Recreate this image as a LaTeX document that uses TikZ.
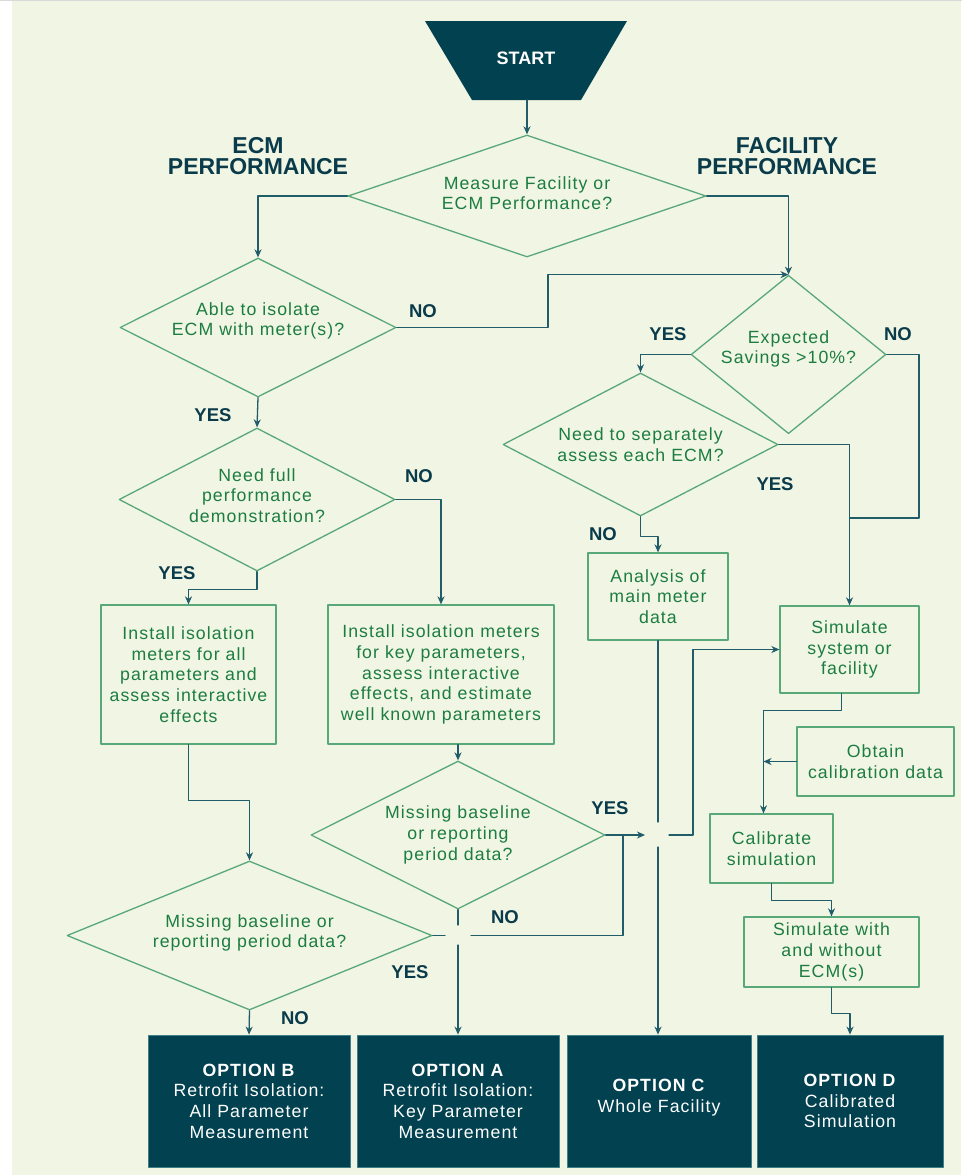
\documentclass[tikz,border=0pt]{standalone}
\usepackage{fontspec}
\setmainfont{Liberation Sans}
\newfontfamily\spacedfont{Liberation Sans}[LetterSpace=6]
\usetikzlibrary{arrows.meta,positioning,shapes.geometric}
\definecolor{paper}{HTML}{F1F5E4}
\definecolor{deepteal}{HTML}{02414F}
\definecolor{optedge}{HTML}{3F7F88}
\definecolor{linkteal}{HTML}{215C69}
\definecolor{edgegreen}{HTML}{58A878}
\definecolor{textgreen}{HTML}{1C7D41}
\definecolor{labelteal}{HTML}{0A3B4A}
\tikzset{
  bodytext/.style={font=\spacedfont\fontsize{17.7}{20.7}\selectfont},
  decision/.style={diamond, draw=edgegreen, line width=1.3pt, inner sep=0pt, align=center, text=textgreen, bodytext},
  process/.style={rectangle, draw=edgegreen, line width=1.3pt, inner sep=2pt, align=center, text=textgreen, bodytext},
  option/.style={rectangle, fill=deepteal, draw=optedge, line width=0.8pt, minimum height=132pt, align=center, text=white, bodytext},
  starttext/.style={text=white, font=\bfseries\fontsize{18}{20}\selectfont},
  heading/.style={align=center, text=labelteal, font=\bfseries\fontsize{23}{21.5}\selectfont},
  lbl/.style={text=labelteal, font=\bfseries\fontsize{18.5}{20}\selectfont},
  link/.style={draw=linkteal, line width=1.3pt},
}
\begin{document}
\begin{tikzpicture}[line cap=round,line join=round,>={Stealth[length=8pt,width=7pt,inset=2.5pt]},x=1pt,y=-1pt]
\useasboundingbox (0,0) rectangle (961,1175);
\fill[paper] (12,1) rectangle (961,1175);
\draw[gray!30,line width=1.5pt] (0,0.5) -- (961,0.5);

\fill[deepteal] (425,21) -- (627,21) -- (581,100) -- (472,100) -- cycle;
\node[starttext] (start) at (526,58) {START};
\coordinate (startbase) at (527,100);
\node[heading] (ecmhead) at (258,156) {ECM\\PERFORMANCE};
\node[heading] (fachead) at (787,156) {FACILITY\\PERFORMANCE};

\node[decision,minimum width=358pt,minimum height=122pt,shape aspect=2.93,text depth=6pt] (measure) at (527,196) {Measure Facility or\\ECM Performance?};
\node[decision,minimum width=276pt,minimum height=139pt,shape aspect=1.99,text depth=17pt] (isolate) at (258,327.5) {Able to isolate\\ECM with meter(s)?};
\node[decision,minimum width=191pt,minimum height=155pt,shape aspect=1.23,text depth=15pt] (savings) at (788.5,354.5) {Expected\\Savings >10\%?};
\node[decision,minimum width=275pt,minimum height=143pt,shape aspect=1.92] (separate) at (640.5,444.5) {Need to separately\\assess each ECM?};
\node[decision,minimum width=276pt,minimum height=143pt,shape aspect=1.93,text depth=8pt] (fulldemo) at (257,499.5) {Need full\\performance\\demonstration?};
\node[decision,minimum width=294pt,minimum height=148pt,shape aspect=1.99] (misskey) at (458,835) {Missing baseline\\or reporting\\period data?};
\node[decision,minimum width=365pt,minimum height=149pt,shape aspect=2.45,text depth=9pt] (missall) at (249.5,935.5) {Missing baseline or\\reporting period data?};

\node[process,minimum width=140pt,minimum height=87pt] (mainmeter) at (658,596.5) {Analysis of\\main meter\\data};
\node[process,minimum width=139pt,minimum height=87pt] (simsys) at (849.5,649.5) {Simulate\\system or\\facility};
\node[process,minimum width=157pt,minimum height=69pt] (calibdata) at (875.5,761.5) {Obtain\\calibration data};
\node[process,minimum width=123pt,minimum height=69pt] (calibsim) at (771.5,848.5) {Calibrate\\simulation};
\node[process,minimum width=175pt,minimum height=70pt] (simecm) at (831.5,952) {Simulate with\\and without\\ECM(s)};
\node[process,minimum width=175pt,minimum height=139pt] (allmeters) at (188.5,674.5) {Install isolation\\meters for all\\parameters and\\assess interactive\\effects};
\node[process,minimum width=226pt,minimum height=139pt] (keymeters) at (441,674.5) {Install isolation meters\\for key parameters,\\assess interactive\\effects, and estimate\\well known parameters};

\node[option,minimum width=202pt] (optb) at (249,1101) {\textbf{OPTION B}\\Retrofit Isolation:\\All Parameter\\Measurement};
\node[option,minimum width=202pt] (opta) at (458,1101) {\textbf{OPTION A}\\Retrofit Isolation:\\Key Parameter\\Measurement};
\node[option,minimum width=184pt,text depth=10pt] (optc) at (659,1101) {\textbf{OPTION C}\\Whole Facility};
\node[option,minimum width=186pt] (optd) at (850,1101) {\textbf{OPTION D}\\Calibrated\\Simulation};

\draw[link,->] (startbase) -- (measure.north);
\draw[link,->] (measure.west) -| (isolate.north);
\draw[link,->] (measure.east) -| (savings.north);
\draw[link,->] (isolate.east) -- (548,327.5) |- (savings.north);
\draw[link,->] (savings.west) -| (separate.north);
\draw[link] (savings.east) -| (919,518) -- (simsys.north |- 0,518);
\draw[link,->] (separate.east) -| (simsys.north);
\draw[link,->] (separate.south) -- ++(0,20) -| (mainmeter.north);
\draw[link] (mainmeter.south) -- (mainmeter.south |- 0,822);
\draw[link,->] (mainmeter.south |- 0,847) -- (mainmeter.south |- optc.north);
\draw[link,->] ([xshift=-8pt]simsys.south) -- ++(0,17) -| ([xshift=-8pt]calibsim.north);
\draw[link,->] (calibdata.west) -- ([xshift=-8pt]calibsim.north |- calibdata.west);
\draw[link,->] (calibsim.south) -- ++(0,17) -| (simecm.north);
\draw[link,->] (simecm.south) -- ++(0,26) -| (optd.north);
\draw[link,->] (isolate.south) -- (fulldemo.north);
\draw[link,->] (fulldemo.east) -| (keymeters.north);
\draw[link,->] (fulldemo.south) -- ++(0,18) -| (allmeters.north);
\draw[link,->] (allmeters.south) -- ++(0,56) -| (missall.north);
\draw[link,->] (keymeters.south -| misskey.north) -- (misskey.north);
\draw[link,->] (misskey.east) -- (645,835);
\draw[link,->] (669,835) -- (693,835) |- (simsys.west);
\draw[link] (missall.east) -- (445,935.5);
\draw[link] (471,935.5) -| (623,835);
\draw[link] (misskey.south) -- (458,925);
\draw[link,->] (458,945) -- (opta.north);
\draw[link,->] (missall.south) -- (optb.north);

\node[lbl] (isono) at (423,311) {NO};
\node[lbl] (isoyes) at (213,415) {YES};
\node[lbl] (fullno) at (419,476) {NO};
\node[lbl] (fullyes) at (177,573) {YES};
\node[lbl] (savyes) at (668,334) {YES};
\node[lbl] (savno) at (898,334) {NO};
\node[lbl] (sepyes) at (775,484) {YES};
\node[lbl] (sepno) at (603,534) {NO};
\node[lbl] (keyyes) at (610,808) {YES};
\node[lbl] (keyno) at (505,917) {NO};
\node[lbl] (allyes) at (410,972) {YES};
\node[lbl] (allno) at (295,1018) {NO};
\end{tikzpicture}
\end{document}
